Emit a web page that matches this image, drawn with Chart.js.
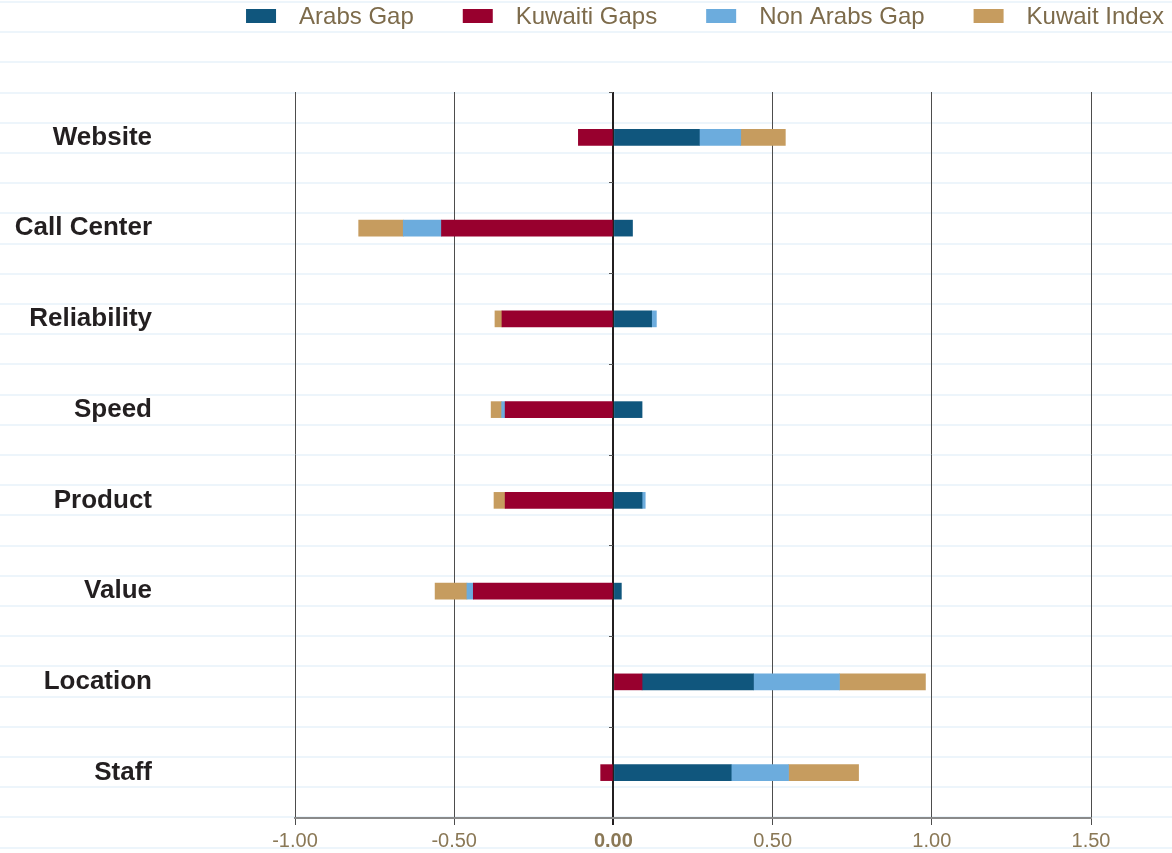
<!DOCTYPE html>
<html><head><meta charset="utf-8">
<script src="https://cdn.jsdelivr.net/npm/chart.js@4"></script>
<style>
html,body{margin:0;padding:0;}
body{width:1172px;height:853px;background-color:#fff;background-image:repeating-linear-gradient(180deg,#edf5fb 0px,#edf5fb 2px,rgba(255,255,255,0) 2px,rgba(255,255,255,0) 30.2px);background-position:0 1px;}
#wrap{position:relative;width:1172px;height:853px;}
</style></head><body><div id="wrap"><canvas id="c"></canvas></div>
<script>
const categories = ['Website','Call Center','Reliability','Speed','Product','Value','Location','Staff'];
const arabsGap    = [0.27, 0.06, 0.12, 0.09, 0.09, 0.025, 0.35, 0.37];
const kuwaitiGaps = [-0.11, -0.54, -0.35, -0.34, -0.34, -0.44, 0.09, -0.04];
const nonArabsGap = [0.13, -0.12, 0.015, -0.011, 0.01, -0.02, 0.27, 0.18];
const kuwaitIndex = [0.14, -0.14, -0.022, -0.033, -0.035, -0.10, 0.27, 0.22];
const legendOrder = ['Arabs Gap','Kuwaiti Gaps','Non Arabs Gap','Kuwait Index'];
const xMin = -1, xMax = 1.5, xStep = 0.5;

const FONT = '"Liberation Sans", Arial, Helvetica, sans-serif';

const topLegend = {
  id: 'topLegend',
  afterDraw(chart) {
    const ctx = chart.ctx;
    ctx.save();
    ctx.font = '24px ' + FONT;
    const items = legendOrder.map(name => {
      const d = chart.data.datasets.find(ds => ds.label === name);
      return { text: name, color: d.backgroundColor, w: ctx.measureText(name).width };
    });
    const boxW = 30, boxH = 14, gapBT = 23, gapItems = 49, rightEdge = 1164, cy = 16;
    const total = items.reduce((s, it) => s + boxW + gapBT + it.w, 0) + gapItems * (items.length - 1);
    let x = rightEdge - total;
    ctx.textBaseline = 'middle';
    ctx.textAlign = 'left';
    items.forEach(it => {
      ctx.fillStyle = it.color;
      ctx.fillRect(x, cy - boxH / 2, boxW, boxH);
      x += boxW + gapBT;
      ctx.fillStyle = '#7d6b4b';
      ctx.fillText(it.text, x, cy + 1);
      x += it.w + gapItems;
    });
    ctx.restore();
  }
};

new Chart(document.getElementById('c'), {
  type: 'bar',
  data: {
    labels: categories,
    datasets: [
      { label: 'Kuwaiti Gaps', data: kuwaitiGaps, backgroundColor: '#98002e' },
      { label: 'Arabs Gap', data: arabsGap, backgroundColor: '#10567d' },
      { label: 'Non Arabs Gap', data: nonArabsGap, backgroundColor: '#6cacdd' },
      { label: 'Kuwait Index', data: kuwaitIndex, backgroundColor: '#c69c5f' }
    ]
  },
  options: {
    indexAxis: 'y',
    responsive: true,
    maintainAspectRatio: false,
    animation: false,
    datasets: { bar: { barThickness: 16, borderWidth: 0 } },
    layout: { padding: { top: 92, right: 81, bottom: 0, left: 0 } },
    plugins: { legend: { display: false }, tooltip: { enabled: false } },
    scales: {
      x: {
        stacked: true,
        min: xMin, max: xMax,
        afterFit: s => { s.height = 35; },
        ticks: {
          stepSize: xStep,
          padding: 4,
          color: '#8a7856',
          font: ctx => ({ family: FONT, size: 20, weight: (ctx.tick && ctx.tick.value === 0) ? 'bold' : 'normal' }),
          callback: v => Number(v).toFixed(2)
        },
        grid: {
          color: ctx => (ctx.tick && ctx.tick.value === 0) ? '#231f20' : '#4d4d4d',
          lineWidth: ctx => (ctx.tick && ctx.tick.value === 0) ? 2 : 1,
          tickLength: 7
        },
        border: { display: true, color: '#8a8a8a', width: 2 }
      },
      y: {
        stacked: true,
        afterFit: s => { s.width = 295; s.paddingTop = 0; s.paddingBottom = 0; },
        grid: { display: false, drawTicks: false },
        border: { display: false },
        ticks: {
          padding: 143,
          color: '#231f20',
          font: { family: FONT, size: 26, weight: 'bold' }
        }
      },
      yTicks: {
        type: 'category',
        axis: 'y',
        position: { x: 0 },
        offset: true,
        afterFit: s => { s.paddingTop = 0; s.paddingBottom = 0; },
        grid: { offset: true, drawOnChartArea: false, drawTicks: true, tickLength: 4, color: '#555', lineWidth: 1 },
        ticks: { display: false },
        border: { display: false }
      }
    }
  },
  plugins: [topLegend]
});
</script>
</body></html>
